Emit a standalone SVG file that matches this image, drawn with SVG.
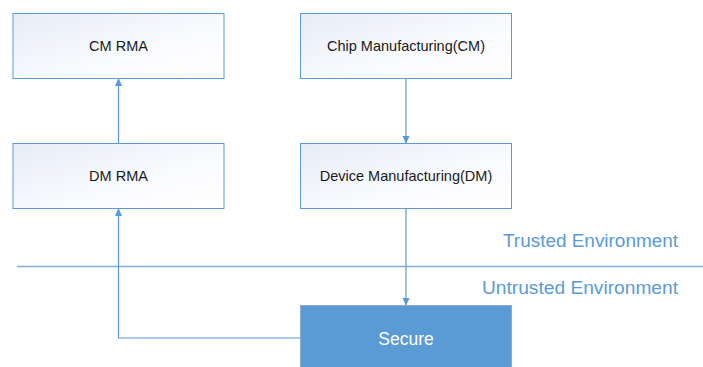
<svg xmlns="http://www.w3.org/2000/svg" width="703" height="367" viewBox="0 0 703 367">
<style>
.box{stroke:#5B9BD5;stroke-width:1;fill:url(#g)}
.lbl{font-family:"Liberation Sans",Arial,sans-serif;font-size:14.5px;fill:#1a1a1a;text-anchor:middle}
.env{font-family:"Liberation Sans",Arial,sans-serif;font-size:18px;fill:#5B9BD5;text-anchor:end}
.con{stroke:#5B9BD5;stroke-width:1.2;fill:none}
</style>
<defs>
<linearGradient id="g" x1="0" y1="0" x2="1" y2="1">
<stop offset="0" stop-color="#E6ECF7"/>
<stop offset="0.6" stop-color="#FAFBFE"/>
<stop offset="1" stop-color="#FFFFFF"/>
</linearGradient>
<marker id="a" markerWidth="8" markerHeight="8" refX="7" refY="4" orient="auto" markerUnits="userSpaceOnUse">
<path d="M0,0.5 L8,4 L0,7.5 Z" fill="#5B9BD5"/>
</marker>
</defs>
<rect width="703" height="367" fill="#fff"/>
<g id="cm-rma"><rect class="box" x="13" y="13.5" width="211" height="65"/><text class="lbl" x="118.5" y="51">CM RMA</text></g>
<g id="chip-mfg"><rect class="box" x="300.5" y="13.5" width="211" height="65"/><text class="lbl" x="406" y="51">Chip Manufacturing(CM)</text></g>
<g id="dm-rma"><rect class="box" x="13" y="143.5" width="211" height="65"/><text class="lbl" x="118.5" y="181">DM RMA</text></g>
<g id="dev-mfg"><rect class="box" x="300.5" y="143.5" width="211" height="65"/><text class="lbl" x="406" y="181">Device Manufacturing(DM)</text></g>
<g id="secure"><rect x="300.5" y="305.5" width="211" height="70" fill="#5B9BD5" stroke="#8FAAC8" stroke-width="1"/><text x="406" y="345" font-family="Liberation Sans,Arial,sans-serif" font-size="17.5" fill="#fff" text-anchor="middle">Secure</text></g>
<g id="boundary">
<line x1="17" y1="266.5" x2="703" y2="266.5" stroke="#7FAEDC" stroke-width="1.3"/>
<text class="env" x="678" y="247" textLength="175" lengthAdjust="spacingAndGlyphs">Trusted Environment</text>
<text class="env" x="678" y="294" textLength="196" lengthAdjust="spacingAndGlyphs">Untrusted Environment</text>
</g>
<g id="connectors">
<line class="con" x1="118.5" y1="143.5" x2="118.5" y2="79" marker-end="url(#a)"/>
<line class="con" x1="406" y1="78.5" x2="406" y2="143" marker-end="url(#a)"/>
<line class="con" x1="406" y1="208.5" x2="406" y2="305" marker-end="url(#a)"/>
<polyline class="con" points="300.5,338 118.5,338 118.5,209" marker-end="url(#a)"/>
</g>
</svg>
